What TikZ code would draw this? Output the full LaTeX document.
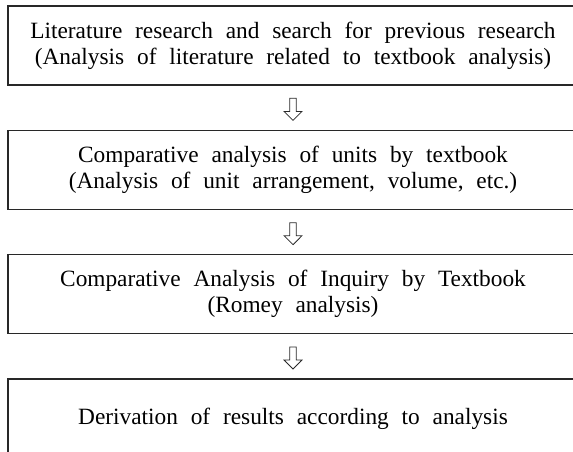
\documentclass[tikz,border=0pt]{standalone}
\usepackage{fontspec}
\setmainfont{Liberation Serif}[WordSpace=2.2]
\usetikzlibrary{positioning,calc,shapes.arrows}
\definecolor{boxline}{RGB}{40,40,40}

\begin{document}
\begin{tikzpicture}[x=.75pt,y=-.75pt,
box/.style={draw=boxline,line width=1pt,align=center,minimum width=427.5pt,minimum height=59.25pt,inner sep=0pt,font=\fontsize{17.5pt}{19.5pt}\selectfont},
darr/.style={draw=boxline,line width=.6pt,single arrow,shape border rotate=270,minimum height=16.5pt,inner sep=2.2pt,single arrow head extend=4.2pt}]
\useasboundingbox (0,0) rectangle (573,451);
\clip (0,0) rectangle (573,451);
% the four steps, one under the other
\node[box] (lit) at (293,45.5) {Literature research and search for previous research\\(Analysis of literature related to textbook analysis)};
\node[box,below=33pt of lit] (units) {Comparative analysis of units by textbook\\(Analysis of unit arrangement, volume, etc.)};
\node[box,below=33pt of units] (inq) {Comparative Analysis of Inquiry by Textbook\\(Romey analysis)};
\node[box,below=33pt of inq] (res) {Derivation of results according to analysis};
% hollow arrows in the gaps
\node[darr] (a1) at ($(lit.south)!.5!(units.north)$) {};
\node[darr] (a2) at ($(units.south)!.5!(inq.north)$) {};
\node[darr] (a3) at ($(inq.south)!.5!(res.north)$) {};
\end{tikzpicture}
\end{document}
